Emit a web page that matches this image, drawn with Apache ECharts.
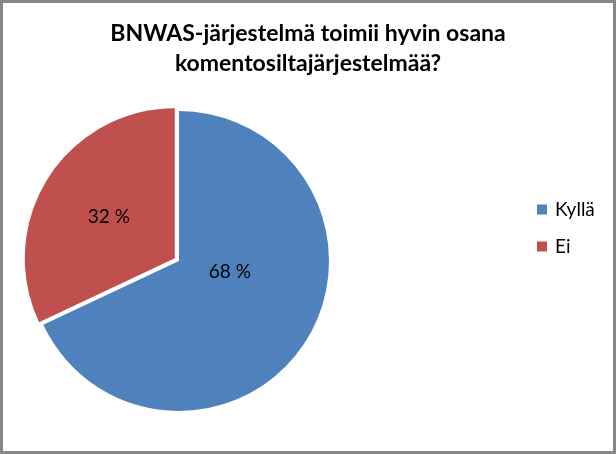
<!DOCTYPE html>
<html><head><meta charset="utf-8">
<script src="https://cdn.jsdelivr.net/npm/echarts@6/dist/echarts.min.js"></script>
<style>html,body{margin:0;padding:0;background:#fff}#c{width:616px;height:454px}</style>
</head><body><div id="c"></div>
<script>
const titleText = 'BNWAS-järjestelmä toimii hyvin osana\nkomentosiltajärjestelmää?';
const categories = ['Kyllä', 'Ei'];
const values = [68, 32];
const colors = ['#4F81BD', '#C0504D'];
const labelOffsets = [[-15, -31], [-11, -18]];

const chart = echarts.init(document.getElementById('c'), null, {renderer: 'canvas'});
const FONT = 'Lato, "Open Sans", sans-serif';
chart.setOption({
  backgroundColor: '#fff',
  animation: false,
  title: {
    text: titleText, left: 'center', top: 14,
    textStyle: {fontFamily: FONT, fontSize: 23, fontWeight: 'bold', color: '#000', lineHeight: 30}
  },
  legend: {
    orient: 'vertical', left: 532, top: 195, itemWidth: 10, itemHeight: 10, itemGap: 18,
    icon: 'rect', data: categories,
    textStyle: {fontFamily: FONT, fontSize: 19, color: '#000', padding: [0,0,0,3]}
  },
  graphic: [{type: 'rect', shape: {x: 1.5, y: 1.5, width: 613, height: 451}, style: {fill: 'none', stroke: '#868686', lineWidth: 3}, z: 100}],
  series: [{
    type: 'pie', center: [179, 261], radius: 150, startAngle: 90, clockwise: true,
    selectedMode: 'single', selectedOffset: 5,
    label: {position: 'inside', fontFamily: FONT, fontSize: 19, color: '#000', formatter: p => p.value + ' %'},
    labelLine: {show: false},
    emphasis: {disabled: true},
    data: categories.map((n, i) => ({
      name: n, value: values[i], selected: i === 1,
      itemStyle: {color: colors[i], borderWidth: 0},
      label: {offset: labelOffsets[i]}
    }))
  }]
});
</script></body></html>
